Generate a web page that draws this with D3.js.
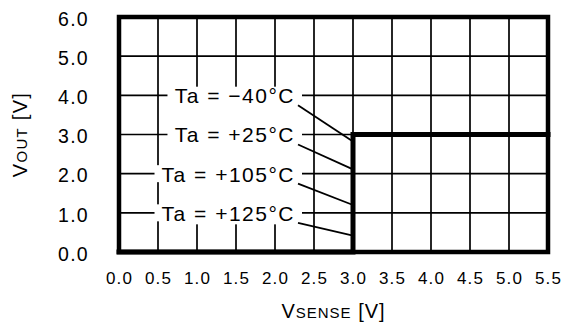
<!DOCTYPE html>
<html>
<head>
<meta charset="utf-8">
<script src="https://cdn.jsdelivr.net/npm/d3@7"></script>
<style>
  html, body { margin: 0; padding: 0; background: #fff; }
  svg { display: block; }
  text { font-family: "Liberation Sans", Arial, sans-serif; fill: #000; }
</style>
</head>
<body>
<svg id="chart" width="564" height="327"></svg>
<script>
// Output voltage vs. sense voltage (detector output, identical at all temperatures)
const xTicks = [0.0, 0.5, 1.0, 1.5, 2.0, 2.5, 3.0, 3.5, 4.0, 4.5, 5.0, 5.5];
const yTicks = [0.0, 1.0, 2.0, 3.0, 4.0, 5.0, 6.0];
const vsense = [0.0, 3.0, 3.0, 5.5];
const vout   = [0.0, 0.0, 3.0, 3.0];
const tempLabels = ["Ta = \u221240\u00B0C", "Ta = +25\u00B0C", "Ta = +105\u00B0C", "Ta = +125\u00B0C"];
const labelRowY  = [4.0, 3.0, 2.0, 1.0];     // label row (VOUT)
const leaderEndY = [2.82, 2.11, 1.2, 0.42];  // where each leader meets the curve (VOUT)
const leaderEndX = 3.0;

const W = 564, H = 327;
const margin = { top: 17, right: 16, bottom: 75, left: 119 };
const svg = d3.select("#chart");

const x = d3.scaleLinear().domain([0, 5.5]).range([margin.left, W - margin.right]);
const y = d3.scaleLinear().domain([0, 6]).range([H - margin.bottom, margin.top]);

// grid
const grid = svg.append("g");
grid.selectAll("line.v").data(xTicks).join("line")
  .attr("x1", d => x(d)).attr("x2", d => x(d))
  .attr("y1", y(0)).attr("y2", y(6))
  .attr("stroke", "#000").attr("stroke-width", 1.7);
grid.selectAll("line.h").data(yTicks).join("line")
  .attr("x1", x(0)).attr("x2", x(5.5))
  .attr("y1", d => y(d)).attr("y2", d => y(d))
  .attr("stroke", "#000").attr("stroke-width", 1.7);

// y tick labels
const yAxis = d3.axisLeft(y).tickValues(yTicks).tickFormat(d3.format(".1f")).tickSize(0).tickPadding(30);
const gy = svg.append("g").attr("transform", `translate(${x(0)},0)`).call(yAxis);
gy.select(".domain").remove();
gy.selectAll("text").attr("font-size", 19.5).attr("letter-spacing", 1.3)
  .attr("font-family", "Liberation Sans, Arial, sans-serif").attr("dy", "0.42em");

// x tick labels
const xAxis = d3.axisBottom(x).tickValues(xTicks).tickFormat(d3.format(".1f")).tickSize(0).tickPadding(20);
const gx = svg.append("g").attr("transform", `translate(0,${y(0)})`).call(xAxis);
gx.select(".domain").remove();
gx.selectAll("text").attr("font-size", 17).attr("letter-spacing", 1.2)
  .attr("font-family", "Liberation Sans, Arial, sans-serif");

// temperature labels with white backing
const labG = svg.append("g");
const texts = labG.selectAll("text").data(tempLabels).join("text")
  .attr("x", x(2.5) - 19)
  .attr("y", (d, i) => y(labelRowY[i]))
  .attr("dy", "0.38em")
  .attr("text-anchor", "end")
  .attr("font-size", 21)
  .attr("letter-spacing", 1.5)
  .text(d => d);
const boxes = [];
texts.each(function () { boxes.push(this.getBBox()); });
const padL = 7, padR = 7;
const rects = boxes.map((b, i) => ({
  x0: b.x - padL, x1: b.x + b.width + padR,
  y0: y(labelRowY[i]) - 8.5, y1: y(labelRowY[i]) + 8.5
}));
const back = {
  x0: d3.max(rects, r => r.x0), x1: d3.max(rects, r => r.x1),
  y0: d3.min(rects, r => r.y0), y1: d3.max(rects, r => r.y1) + 3
};
labG.insert("rect", "text")
  .attr("x", back.x0).attr("y", back.y0)
  .attr("width", back.x1 - back.x0).attr("height", back.y1 - back.y0)
  .attr("fill", "#fff");
const firstText = labG.select("text").node();
rects.forEach(r => {
  labG.insert("rect", () => firstText)
    .attr("x", r.x0).attr("y", r.y0)
    .attr("width", r.x1 - r.x0).attr("height", r.y1 - r.y0)
    .attr("fill", "#fff");
});

// leader lines from label to curve
labG.selectAll("line.leader").data(boxes).join("line").attr("class", "leader")
  .attr("x1", b => b.x + b.width + 3)
  .attr("y1", (b, i) => y(labelRowY[i]) + 10)
  .attr("x2", x(leaderEndX))
  .attr("y2", (b, i) => y(leaderEndY[i]))
  .attr("stroke", "#000").attr("stroke-width", 1.8);

// plot frame
svg.append("rect")
  .attr("x", x(0)).attr("y", y(6))
  .attr("width", x(5.5) - x(0)).attr("height", y(0) - y(6))
  .attr("fill", "none").attr("stroke", "#000").attr("stroke-width", 4.5);

// detector output curve
const pts = vsense.map((v, i) => [v, vout[i]]);
svg.append("path")
  .attr("d", d3.line().x(d => x(d[0])).y(d => y(d[1]))(pts))
  .attr("fill", "none").attr("stroke", "#000").attr("stroke-width", 5)
  .attr("stroke-linejoin", "miter").attr("stroke-linecap", "square");

// axis titles
const yt = svg.append("text")
  .attr("transform", `translate(27,${(y(0) + y(6)) / 2}) rotate(-90)`)
  .attr("text-anchor", "middle").attr("font-size", 20).attr("letter-spacing", 1.3);
yt.append("tspan").text("V");
yt.append("tspan").attr("font-size", 15).text("OUT");
yt.append("tspan").text(" [V]");

const xt = svg.append("text")
  .attr("x", (x(0) + x(5.5)) / 2).attr("y", 318)
  .attr("text-anchor", "middle").attr("font-size", 20).attr("letter-spacing", 1);
xt.append("tspan").text("V");
xt.append("tspan").attr("font-size", 15).text("SENSE");
xt.append("tspan").text(" [V]");
</script>
</body>
</html>
